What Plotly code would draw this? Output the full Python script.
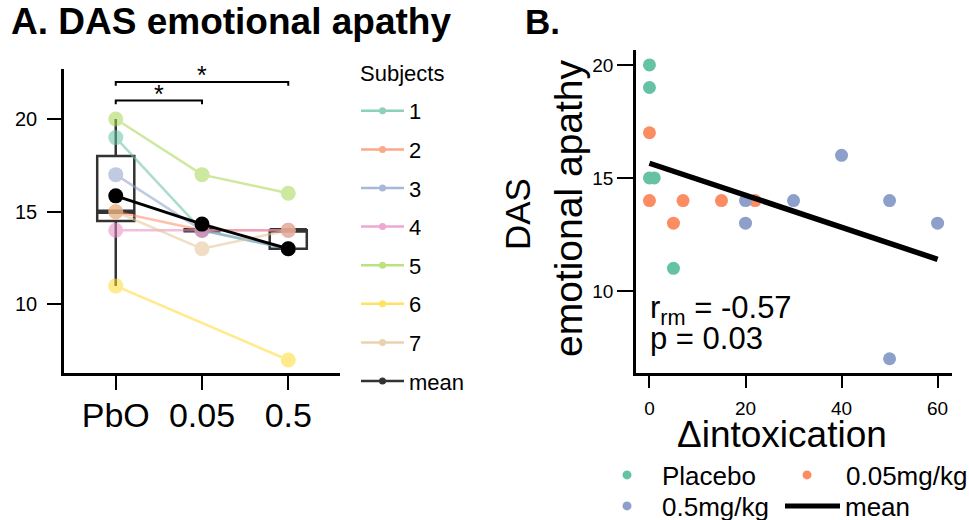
import numpy as np
import plotly.graph_objects as go

# ---------------- data ----------------
dose_labels = ["PbO", "0.05", "0.5"]
subject_ids = ["1", "2", "3", "4", "5", "6", "7"]
subject_scores = [
    [19, 14, 13],
    [15, 14, 14],
    [17, 14, 13],
    [14, 14, 14],
    [20, 17, 16],
    [11, None, 7],
    [15, 13, 14],
]
subject_colors = ["#66c2a5", "#fc8d62", "#8da0cb", "#e78ac3", "#a6d854", "#ffd92f", "#e5c494"]

sig_from = ["PbO", "PbO"]
sig_to = ["0.05", "0.5"]
sig_level = [21.0, 22.0]
sig_text = ["*", "*"]

placebo_dx = [0, 0, 0, 1, 5]
placebo_das = [20, 19, 15, 15, 11]
low_dx = [0, 0, 5, 7, 15, 22]
low_das = [17, 14, 13, 14, 14, 14]
high_dx = [20, 20, 30, 40, 50, 50, 60]
high_das = [14, 13, 14, 16, 14, 7, 13]
group_names = ["Placebo", "0.05mg/kg", "0.5mg/kg"]
group_colors = ["#66c2a5", "#fc8d62", "#8da0cb"]
fit_dx = [0, 60]
fit_das = [15.65, 11.40]
r_rm = -0.57
p_value = 0.03

FONT = "Liberation Sans, Arial, Helvetica, sans-serif"
W, H = 969, 520

# ---------------- derived stats ----------------
arr = np.array([[np.nan if v is None else v for v in row] for row in subject_scores], dtype=float)
mean_scores = np.nanmean(arr, axis=0)
q1s, meds, q3s, lows, highs = [], [], [], [], []
for j in range(len(dose_labels)):
    v = arr[:, j]
    v = v[~np.isnan(v)]
    q1, md, q3 = np.percentile(v, [25, 50, 75])
    iqr = q3 - q1
    q1s.append(q1); meds.append(md); q3s.append(q3)
    lows.append(v[v >= q1 - 1.5 * iqr].min())
    highs.append(v[v <= q3 + 1.5 * iqr].max())

fig = go.Figure()

# ---------------- panel A ----------------
fig.add_trace(go.Box(
    x=dose_labels, q1=q1s, median=meds, q3=q3s, lowerfence=lows, upperfence=highs,
    width=0.43, whiskerwidth=0, fillcolor="white", boxpoints=False,
    line=dict(color="#333333", width=2.5), showlegend=False, hoverinfo="skip",
    xaxis="x", yaxis="y"))
fig.add_trace(go.Box(
    x=dose_labels, q1=meds, median=meds, q3=meds, lowerfence=meds, upperfence=meds,
    width=0.43, whiskerwidth=0, fillcolor="rgba(0,0,0,0)", boxpoints=False,
    line=dict(color="#333333", width=4.5), showlegend=False, hoverinfo="skip",
    xaxis="x", yaxis="y"))

for sid, scores, col in zip(subject_ids, subject_scores, subject_colors):
    fig.add_trace(go.Scatter(
        x=dose_labels, y=scores, mode="lines+markers", connectgaps=True,
        line=dict(color=col, width=2.5), marker=dict(color=col, size=15),
        opacity=0.55, showlegend=False, xaxis="x", yaxis="y"))

fig.add_trace(go.Scatter(
    x=dose_labels, y=mean_scores, mode="lines+markers",
    line=dict(color="black", width=3), marker=dict(color="black", size=15),
    showlegend=False, xaxis="x", yaxis="y"))

for a, b, lvl, txt in zip(sig_from, sig_to, sig_level, sig_text):
    fig.add_trace(go.Scatter(
        x=[a, a, b, b], y=[lvl - 0.2, lvl, lvl, lvl - 0.2], mode="lines",
        line=dict(color="black", width=2), showlegend=False, hoverinfo="skip",
        xaxis="x", yaxis="y"))
    mid = (dose_labels.index(a) + dose_labels.index(b)) / 2
    fig.add_annotation(x=mid, y=lvl, xref="x", yref="y", text=txt, showarrow=False,
                       yanchor="bottom", yshift=-9, font=dict(size=25, color="black", family=FONT))

# legend entries for panel A
for sid, col in zip(subject_ids, subject_colors):
    fig.add_trace(go.Scatter(
        x=[None], y=[None], mode="lines+markers", name=sid, legendgroup=sid,
        line=dict(color=col, width=2.5), marker=dict(color=col, size=7), opacity=0.75,
        legend="legend", xaxis="x", yaxis="y"))
fig.add_trace(go.Scatter(
    x=[None], y=[None], mode="lines+markers", name="mean", legendgroup="mean",
    line=dict(color="#333333", width=2.5), marker=dict(color="#333333", size=7),
    legend="legend", xaxis="x", yaxis="y"))
fig.add_annotation(x=358 / W, y=1 - 74 / H, xref="paper", yref="paper", text="Subjects",
                   showarrow=False, xanchor="left", yanchor="middle",
                   font=dict(size=22, color="black", family=FONT))

# ---------------- panel B ----------------
for xs, ys, col in zip([placebo_dx, low_dx, high_dx], [placebo_das, low_das, high_das], group_colors):
    fig.add_trace(go.Scatter(
        x=xs, y=ys, mode="markers", marker=dict(color=col, size=13),
        showlegend=False, xaxis="x2", yaxis="y2"))
fig.add_trace(go.Scatter(
    x=fit_dx, y=fit_das, mode="lines", line=dict(color="black", width=5.5),
    showlegend=False, xaxis="x2", yaxis="y2"))

# one single-entry legend per cell of the 2x2 legend grid
legend_cells = ["legend2", "legend3", "legend4"]
for name, col, lg in zip(group_names, group_colors, legend_cells):
    fig.add_trace(go.Scatter(
        x=[None], y=[None], mode="markers", name=name,
        marker=dict(color=col, size=9), legend=lg, xaxis="x2", yaxis="y2"))
fig.add_trace(go.Scatter(
    x=[None], y=[None], mode="lines", name="mean",
    line=dict(color="black", width=5), legend="legend5", xaxis="x2", yaxis="y2"))

fig.add_annotation(x=0.037, y=0.194, xref="x2 domain", yref="y2 domain",
                   text=f"r<sub>rm</sub> = {r_rm:.2f}", showarrow=False,
                   xanchor="left", yanchor="middle", font=dict(size=31, color="black", family=FONT))
fig.add_annotation(x=0.037, y=0.106, xref="x2 domain", yref="y2 domain",
                   text=f"p = {p_value:.2f}", showarrow=False,
                   xanchor="left", yanchor="middle", font=dict(size=31, color="black", family=FONT))

# titles / axis titles
fig.add_annotation(x=9 / W, y=1 - 22 / H, xref="paper", yref="paper", text="<b>A. DAS emotional apathy</b>",
                   showarrow=False, xanchor="left", yanchor="middle",
                   font=dict(size=37, color="black", family=FONT))
fig.add_annotation(x=523 / W, y=1 - 22 / H, xref="paper", yref="paper", text="<b>B.</b>",
                   showarrow=False, xanchor="left", yanchor="middle",
                   font=dict(size=35, color="black", family=FONT))
fig.add_annotation(x=517 / W, y=1 - 214 / H, xref="paper", yref="paper", text="DAS",
                   showarrow=False, textangle=-90, xanchor="center", yanchor="middle",
                   font=dict(size=35, color="black", family=FONT))
fig.add_annotation(x=568 / W, y=1 - 208 / H, xref="paper", yref="paper", text="emotional apathy",
                   showarrow=False, textangle=-90, xanchor="center", yanchor="middle",
                   font=dict(size=39, color="black", family=FONT))
fig.add_annotation(x=782 / W, y=1 - 434 / H, xref="paper", yref="paper", text="\u0394intoxication",
                   showarrow=False, xanchor="center", yanchor="middle",
                   font=dict(size=37, color="black", family=FONT))

axis_common = dict(showline=True, linecolor="black", linewidth=2.5, ticks="outside",
                   tickcolor="black", tickwidth=2, showgrid=False, zeroline=False)

cell = dict(xanchor="left", yanchor="middle", orientation="h",
            font=dict(size=26), bgcolor="rgba(0,0,0,0)")

fig.update_layout(
    width=W, height=H,
    margin=dict(l=0, r=0, t=0, b=0, autoexpand=False),
    paper_bgcolor="white", plot_bgcolor="white",
    font=dict(family=FONT, color="black"),
    xaxis=dict(domain=[64 / W, 340 / W], range=[-0.6, 2.6], type="category",
               categoryorder="array", categoryarray=dose_labels, anchor="y",
               ticklen=14, tickfont=dict(size=34), ticklabelstandoff=-4, **axis_common),
    yaxis=dict(domain=[1 - 373 / H, 1 - 69 / H], range=[6.3, 22.7], anchor="x",
               tickvals=[10, 15, 20], ticklen=14, tickfont=dict(size=20),
               ticklabelstandoff=6, **axis_common),
    xaxis2=dict(domain=[636 / W, 952 / W], range=[-2.8, 63], anchor="y2",
                tickvals=[0, 20, 40, 60], ticklen=12, tickfont=dict(size=19),
                ticklabelstandoff=4, **axis_common),
    yaxis2=dict(domain=[1 - 373 / H, 1 - 50 / H], range=[6.37, 20.66], anchor="x2",
                tickvals=[10, 15, 20], ticklen=16, tickfont=dict(size=19), **axis_common),
    legend=dict(x=356 / W, y=1 - 90 / H, xanchor="left", yanchor="top", itemwidth=43,
                font=dict(size=22), tracegroupgap=7, bgcolor="rgba(0,0,0,0)"),
    legend2=dict(x=592 / W, y=1 - 475 / H, itemwidth=60, **cell),
    legend3=dict(x=768 / W, y=1 - 475 / H, itemwidth=68, **cell),
    legend4=dict(x=592 / W, y=1 - 506 / H, itemwidth=60, **cell),
    legend5=dict(x=780 / W, y=1 - 506 / H, itemwidth=55, **cell),
)

fig.write_html("out.html", config={"displayModeBar": False})
